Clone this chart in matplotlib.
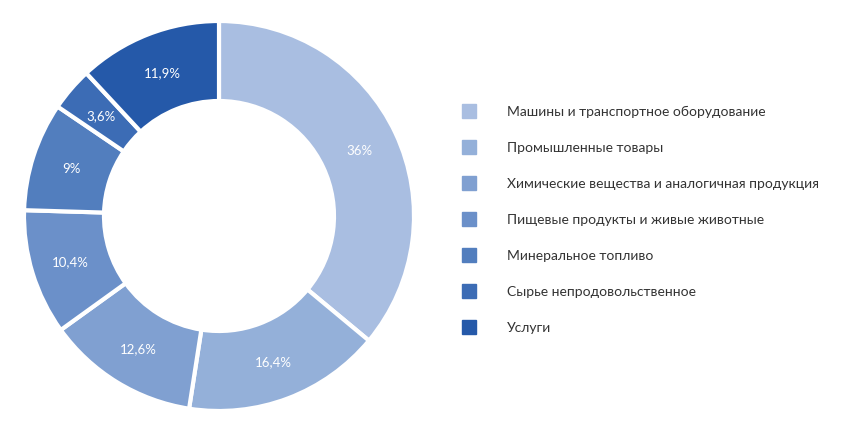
import matplotlib
matplotlib.use("Agg")
import matplotlib.pyplot as plt
from matplotlib.patches import Rectangle
import numpy as np

plt.rcParams['font.family'] = ['Lato', 'DejaVu Sans']

labels = ["Машины и транспортное оборудование", "Промышленные товары",
          "Химические вещества и аналогичная продукция",
          "Пищевые продукты и живые животные", "Минеральное топливо",
          "Сырье непродовольственное", "Услуги"]
values = [36, 16.4, 12.6, 10.4, 9, 3.6, 11.9]
value_text = ["36%", "16,4%", "12,6%", "10,4%", "9%", "3,6%", "11,9%"]
colors = ["#a9bee1", "#94b0d9", "#80a0d1", "#6b90c9", "#527ebe", "#3c6cb5", "#2559a9"]

fig = plt.figure(figsize=(8.64, 4.39), dpi=100)
ax = fig.add_axes([19/864, 22/439, 400/864, 400/439])
wedges, _ = ax.pie(values, colors=colors, startangle=90, counterclock=False,
                   radius=0.975, wedgeprops=dict(width=0.4, edgecolor='white', linewidth=3))
ax.set_xlim(-1, 1)
ax.set_ylim(-1, 1)
ax.set_aspect('equal')
ax.axis('off')

r = 0.775
for w, t in zip(wedges, value_text):
    ang = np.deg2rad((w.theta1 + w.theta2) / 2)
    ax.text(r * np.cos(ang), r * np.sin(ang), t, color='white', fontsize=9.5,
            ha='center', va='center')

for i, (lab, c) in enumerate(zip(labels, colors)):
    y = 112 + 36 * i
    fig.patches.append(Rectangle((462/864, 1 - (y + 7)/439), 14/864, 14/439,
                                 color=c, transform=fig.transFigure))
    fig.text(507/864, 1 - y/439, lab, fontsize=10, color='#333333', va='center')

fig.savefig("out.png", dpi=100)
